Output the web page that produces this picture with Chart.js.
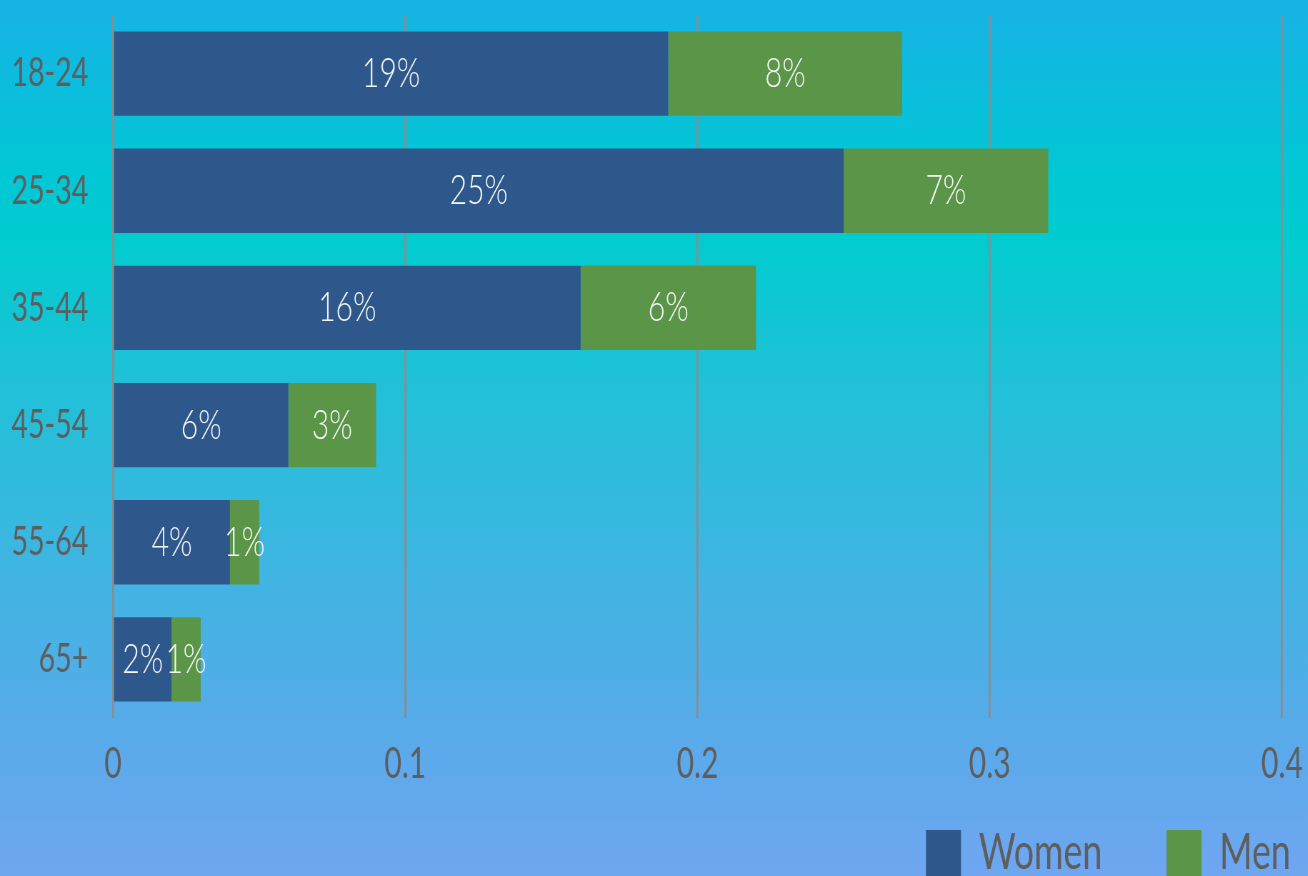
<!DOCTYPE html>
<html>
<head>
<meta charset="utf-8">
<script src="https://cdn.jsdelivr.net/npm/chart.js@4/dist/chart.umd.min.js"></script>
<style>
  html, body { margin: 0; padding: 0; overflow: hidden; }
  body {
    width: 1308px; height: 876px;
    background: linear-gradient(to bottom, #17b2e5 0%, #03c6d6 18%, #00cccf 27%, #22c0d8 45%, #3fb5e2 65%, #5aaaea 85%, #6fa6f1 100%);
  }
  /* the source picture is squeezed horizontally, so draw wide and squeeze */
  #wrap { position: absolute; left: 0; top: 0; width: 1897px; height: 888px; transform: scaleX(0.7143); transform-origin: 0 0; }
</style>
</head>
<body>
<div id="wrap"><canvas id="chart"></canvas></div>
<script>
const ageGroups = ["18-24", "25-34", "35-44", "45-54", "55-64", "65+"];
const women = [0.19, 0.25, 0.16, 0.06, 0.04, 0.02];
const men = [0.08, 0.07, 0.06, 0.03, 0.01, 0.01];
const xTicks = [0, 0.1, 0.2, 0.3, 0.4];

const S = 1.4; // horizontal stretch undone by the css squeeze
const FONT = "Lato, 'Open Sans', sans-serif";
const GREY = "#5e5e5e";

// white percentage labels centred in each segment
const segmentLabels = {
  id: "segmentLabels",
  afterDatasetsDraw(chart) {
    const { ctx } = chart;
    ctx.save();
    ctx.font = `300 42px ${FONT}`;
    ctx.fillStyle = "#f6f7f9";
    ctx.textAlign = "center";
    ctx.textBaseline = "middle";
    chart.data.datasets.forEach((ds, i) => {
      chart.getDatasetMeta(i).data.forEach((bar, j) => {
        const { x, y, base } = bar.getProps(["x", "y", "base"], true);
        const text = Math.round(ds.data[j] * 100) + "%";
        ctx.fillText(text, (x + base) / 2, y);
      });
    });
    ctx.restore();
  },
};

new Chart(document.getElementById("chart"), {
  type: "bar",
  data: {
    labels: ageGroups,
    datasets: [
      { label: "Women", data: women, backgroundColor: "#2e588b", barPercentage: 0.72, categoryPercentage: 1 },
      { label: "Men", data: men, backgroundColor: "#5b9548", barPercentage: 0.72, categoryPercentage: 1 },
    ],
  },
  options: {
    indexAxis: "y",
    responsive: true,
    maintainAspectRatio: false,
    animation: false,
    layout: { padding: { top: 15, right: 0, left: 0, bottom: 0 } },
    scales: {
      x: {
        stacked: true,
        min: 0,
        max: 0.4,
        afterBuildTicks: (scale) => { scale.ticks = xTicks.map((v) => ({ value: v })); },
        afterFit: (scale) => {
          scale.height = 20;
          scale.paddingLeft = 0;
          scale.paddingRight = 1897 - 1282 * S;
        },
        grid: { color: "#8c8c8c", lineWidth: 2 * S, drawTicks: false },
        border: { display: false },
        // mirrored with a negative padding so the labels can sit over the legend's empty top band
        ticks: { color: GREY, font: { family: FONT, size: 42 }, mirror: true, padding: -72 },
      },
      y: {
        stacked: true,
        afterFit: (scale) => {
          scale.width = 113 * S;
          scale.paddingTop = 0;
          scale.paddingBottom = 0;
        },
        grid: { display: false },
        border: { display: false },
        ticks: { color: GREY, font: { family: FONT, size: 40 }, padding: 19 * S },
      },
    },
    plugins: {
      legend: {
        position: "bottom",
        align: "end",
        labels: {
          color: GREY,
          font: { family: FONT, size: 50 },
          boxWidth: 35 * S,
          boxHeight: 46,
          padding: 90,
        },
      },
      tooltip: { enabled: false },
    },
  },
  plugins: [segmentLabels],
});
</script>
</body>
</html>
